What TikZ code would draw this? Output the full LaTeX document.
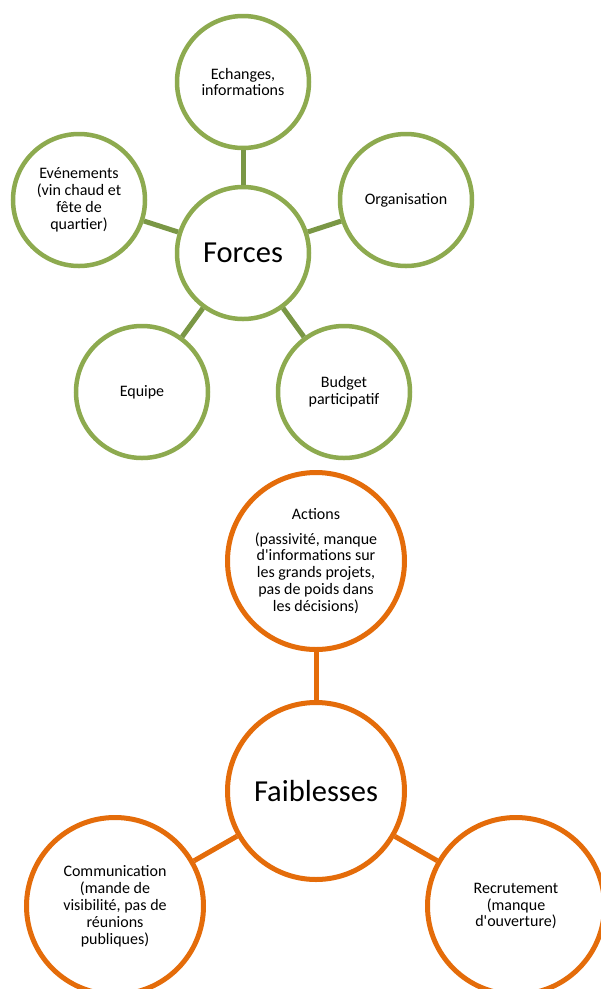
\documentclass[tikz,border=0pt]{standalone}
\usepackage{fontspec}
\setmainfont{Carlito}
\definecolor{gcirc}{HTML}{8DAA4F}
\definecolor{gline}{HTML}{7A9745}
\definecolor{ocirc}{HTML}{E46C0A}
\newcommand{\apos}{\textquotesingle}
\begin{document}
\begin{tikzpicture}[x=1pt,y=1pt,
  small/.style={font=\fontsize{16}{16.9}\selectfont, align=center},
  big/.style={font=\fontsize{30.5}{34}\selectfont},
  gnode/.style={circle, draw=gcirc, line width=4.5pt, fill=white, minimum size=132pt, inner sep=0pt},
  onode/.style={circle, draw=ocirc, line width=5pt, fill=white, minimum size=177pt, inner sep=0pt},
  glink/.style={draw=gline, line width=5pt},
  olink/.style={draw=ocirc, line width=5pt}]
\useasboundingbox (0,0) rectangle (601,-989);
% green group
\node[gnode] (forces) at (243,-253) {};
\node[big] at (forces.center) {Forces};
\node[gnode, small] (ech) at (243,-82) {Echanges,\\informations};
\node[gnode, small] (eve) at (79,-200) {Evénements\\(vin chaud et\\fête de\\quartier)};
\node[gnode, small] (org) at (406,-200) {Organisation};
\node[gnode, small] (equ) at (142,-392) {Equipe};
\node[gnode, small] (bud) at (344,-392) {Budget\\participatif};
% orange group
\node[onode] (fai) at (316,-791) {};
\node[big] at (fai.center) {Faiblesses};
\node[onode, small] (act) at (316,-561) {Actions\\[8pt](passivité, manque\\d\apos informations sur\\les grands projets,\\pas de poids dans\\les décisions)};
\node[onode, small] (com) at (115,-906) {Communication\\(mande de\\visibilité, pas de\\réunions\\publiques)};
\node[onode, small] (rec) at (516,-906) {Recrutement\\(manque\\d\apos ouverture)};
% connectors
\path[glink] (forces) -- (ech);
\path[glink] (forces) -- (eve);
\path[glink] (forces) -- (org);
\path[glink] (forces) -- (equ);
\path[glink] (forces) -- (bud);
\path[olink] (fai) -- (act);
\path[olink] (fai) -- (com);
\path[olink] (fai) -- (rec);
\end{tikzpicture}
\end{document}
